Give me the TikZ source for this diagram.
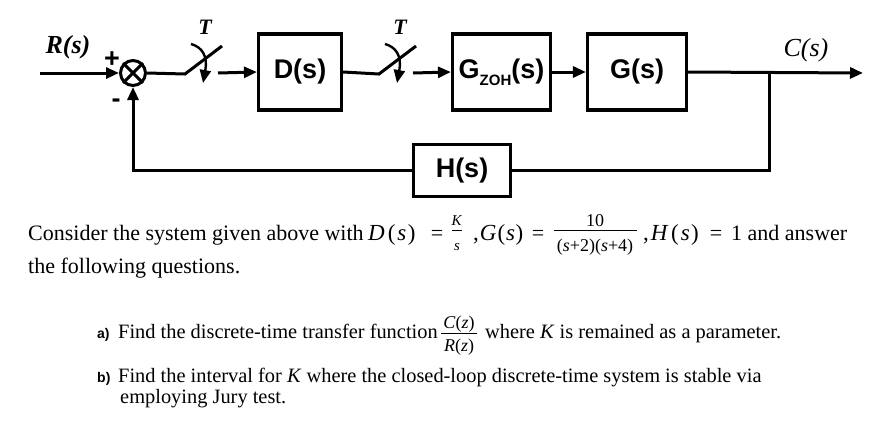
\documentclass[tikz,border=0pt]{standalone}
\usepackage{fontspec}
\setmainfont{Liberation Serif}
\newfontfamily\arialfont{Liberation Sans}
\usetikzlibrary{arrows.meta}
\tikzset{
  wire/.style={line width=3pt},
  arr/.style={wire,-{Triangle[length=13pt,width=11pt]}},
  blk/.style={draw,line width=3.2pt,inner sep=0pt,font=\arialfont\bfseries\fontsize{27}{27}\selectfont},
  sig/.style={inner sep=0pt,font=\bfseries\itshape\fontsize{26}{26}\selectfont},
  samp/.style={inner sep=0pt,font=\bfseries\itshape\fontsize{22}{22}\selectfont},
  sgn/.style={inner sep=0pt,font=\arialfont\bfseries\fontsize{27}{27}\selectfont},
  body/.style={inner sep=0pt,anchor=base west,font=\fontsize{22}{22}\selectfont},
  mth/.style={inner sep=0pt,anchor=base west,font=\fontsize{23}{23}\selectfont},
  bodyc/.style={inner sep=0pt,anchor=base,font=\fontsize{22}{22}\selectfont},
  qbody/.style={inner sep=0pt,anchor=base west,font=\fontsize{20.4}{20.4}\selectfont},
  qlab/.style={inner sep=0pt,anchor=base west,font=\arialfont\bfseries\fontsize{14}{14}\selectfont},
  frc/.style={inner sep=0pt,font=\fontsize{15}{15}\selectfont},
  frcb/.style={inner sep=0pt,font=\fontsize{18}{18}\selectfont},
  fbar/.style={line width=0.9pt},
  swarc/.style={line width=2.4pt,-{Triangle[length=13pt,width=11pt]}},
}
\begin{document}
\begin{tikzpicture}[x=1pt,y=-1pt]
\useasboundingbox[fill=white] (0,0) rectangle (877,424);

% blocks
\node[blk,minimum width=83pt,minimum height=76pt] (D) at (300,72) {D(s)};
\node[blk,minimum width=98pt,minimum height=76pt] (Gzoh) at (501.5,72) {G{\fontsize{15}{15}\selectfont\raisebox{-7pt}{ZOH}}(s)};
\node[blk,minimum width=99pt,minimum height=76pt] (G) at (637,72) {G(s)};
\node[blk,minimum width=97pt,minimum height=52pt] (H) at (462,170.5) {H(s)};

% summing junction
\node[draw,circle,line width=3pt,minimum size=25pt,inner sep=0pt] (S) at (133,73) {};
\draw[wire] (S.north west) -- (S.south east);
\draw[wire] (S.north east) -- (S.south west);

% input
\coordinate (in) at (40,73);
\draw[arr] (in) -- (S.west);
\node[sig] (R) at (68,47) {R(s)};
\node[sgn] (plus) at (112,60) {+};
\node[sgn] (minus) at (116,103) {-};

% sampler 1
\coordinate (s1a) at (185,74);
\coordinate (s1b) at (222,46);
\coordinate (s1c) at (191,44);
\coordinate (s1d) at (203,83);
\coordinate (s1e) at (218,73);
\draw[wire] (S.east) -- (s1a) -- (s1b);
\draw[swarc] (s1c) .. controls (202,47) and (208,56) .. (s1d);
\draw[arr] (s1e) -- (D.west);
\node[samp] (T1) at (205,27) {T};

% sampler 2
\coordinate (s2a) at (379,74);
\coordinate (s2b) at (416,46);
\coordinate (s2c) at (385,44);
\coordinate (s2d) at (397,83);
\coordinate (s2e) at (413,73);
\draw[wire] (D.east) -- (s2a) -- (s2b);
\draw[swarc] (s2c) .. controls (396,47) and (402,56) .. (s2d);
\draw[arr] (s2e) -- (Gzoh.west);
\node[samp] (T2) at (400,27) {T};

\draw[arr] (Gzoh.east) -- (G.west);
\coordinate (out) at (863,73);
\draw[arr] (G.east) -- (out);
\node[inner sep=0pt,font=\itshape\fontsize{26}{26}\selectfont] (C) at (806,50) {C(s)};

% feedback
\coordinate (tk) at (769,73);
\draw[wire] (tk) |- (H.east);
\draw[arr] (H.west) -| (S.south);

% text line 1
\node[body] (l1a) at (28,240) {Consider the system given above with};
\node[mth] (l1D) at (368,240) {\textit{D}\kern3pt(\kern2pt\textit{s}\kern1.5pt)};
\node[bodyc] (l1eq1) at (437,240) {=};
\node[frc] (fK) at (457,221) {\textit{K}};
\draw[fbar] (452,230) -- (462,230);
\node[frc] (fs) at (457,247) {\textit{s}};
\node[mth] (l1b) at (473,240) {,\kern1pt\textit{G}\kern1pt(\kern1pt\textit{s}\kern0.5pt)};
\node[bodyc] (l1eq2) at (538,240) {=};
\node[frcb] (f10) at (595,221) {10};
\draw[fbar] (554,230) -- (637,230);
\node[frcb] (fden) at (595,247) {(\textit{s}+2)(\textit{s}+4)};
\node[mth] (l1c) at (643,240) {,\kern2pt\textit{H}\kern2.5pt(\kern2pt\textit{s}\kern1.5pt)};
\node[bodyc] (l1eq3) at (716,240) {=};
\node[body] (l1d) at (731,240) {1 and answer};
\node[body] (l2) at (28,273) {the following questions.};

% question a
\node[qlab] (qa) at (97,338) {a)};
\node[qbody] (qa1) at (118,338) {Find the discrete-time transfer function};
\node[frcb] (fC) at (459,324) {\textit{C}(\textit{z})};
\draw[fbar] (441,333) -- (477,333);
\node[frcb] (fR) at (459,347) {\textit{R}(\textit{z})};
\node[qbody] (qa2) at (485,338) {where \textit{K} is remained as a parameter.};

% question b
\node[qlab] (qb) at (97,382) {b)};
\node[qbody] (qb1) at (118,382) {Find the interval for \textit{K} where the closed-loop discrete-time system is stable via};
\node[qbody] (qb2) at (120,403) {employing Jury test.};
\end{tikzpicture}
\end{document}
